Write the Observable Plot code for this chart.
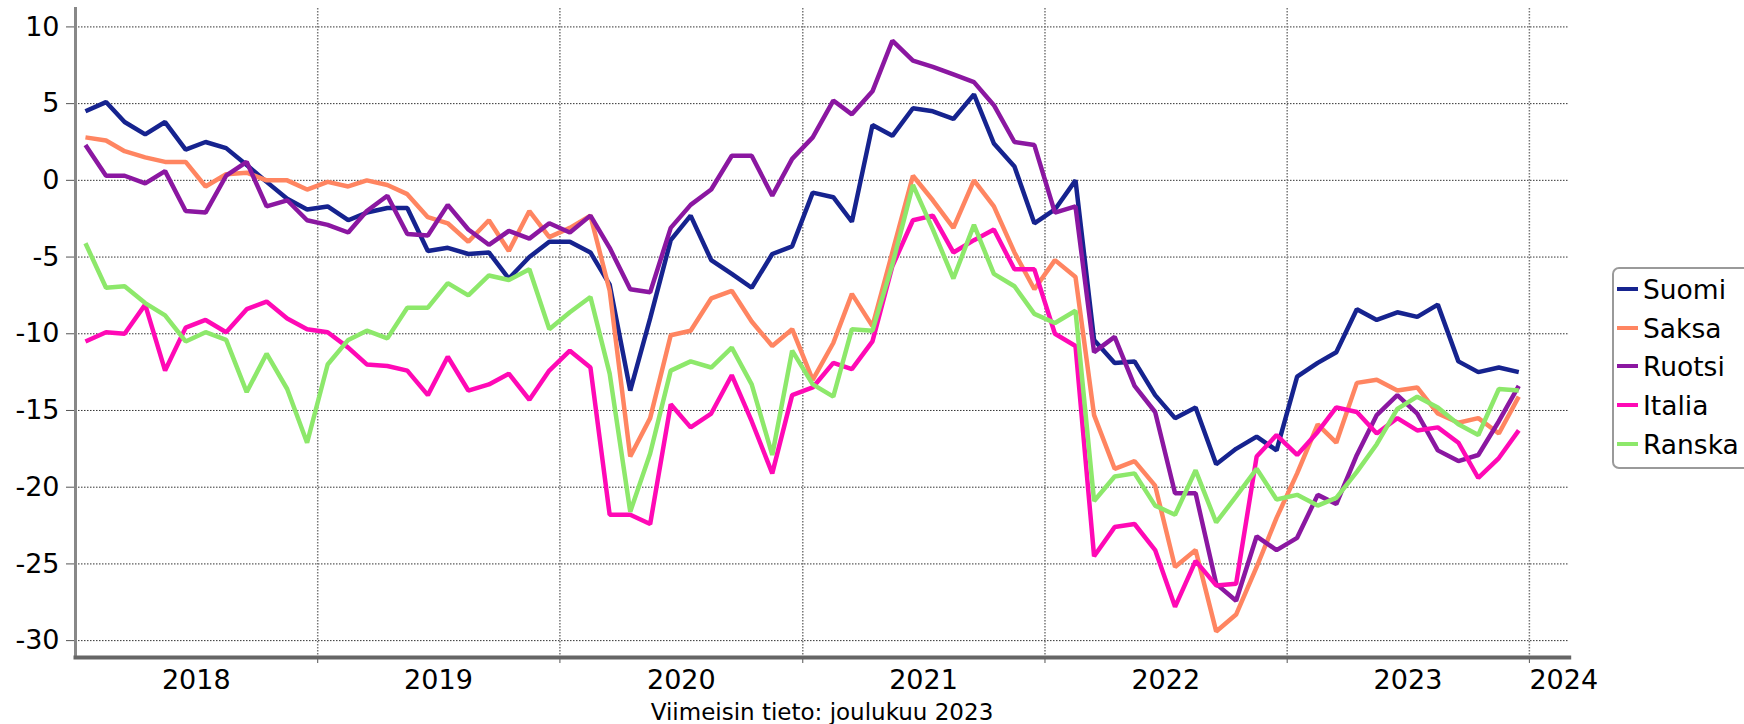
<!DOCTYPE html>
<html>
<head>
<meta charset="utf-8">
<script src="https://cdn.jsdelivr.net/npm/d3@7"></script>
<script src="https://cdn.jsdelivr.net/npm/@observablehq/plot@0.6"></script>
<style>
html,body{margin:0;padding:0;background:#fff;}
body{width:1744px;height:724px;position:relative;overflow:hidden;font-family:"DejaVu Sans",Verdana,sans-serif;color:#000;}
#chart{position:absolute;left:0;top:0;}
#caption{position:absolute;left:75px;width:1494px;top:699px;text-align:center;font-size:23px;line-height:normal;white-space:nowrap;}
#legend{position:absolute;left:1612px;top:267px;width:150px;height:196px;border:2px solid #9a9a9a;border-radius:7px;padding-top:2px;box-sizing:content-box;background:#fff;}
.row{position:relative;height:38.7px;}
.sw{position:absolute;left:3px;top:16px;width:21px;height:4px;}
.lb{position:absolute;left:29px;top:0;line-height:38.7px;font-size:26.5px;white-space:nowrap;}
</style>
</head>
<body>
<div id="chart"></div>
<div id="legend"></div>
<div id="caption"></div>
<script>
// ---- data ----
const startYear = 2018;
const seriesNames = ["Suomi", "Saksa", "Ruotsi", "Italia", "Ranska"];
const seriesColors = ["#16238f", "#ff8561", "#8b17a1", "#ff09b5", "#8de86b"];

const suomi = [
  4.5, 5.1, 3.8, 3.0, 3.8, 2.0, 2.5, 2.1, 1.0, -0.1, -1.2, -1.9,
  -1.7, -2.6, -2.1, -1.8, -1.8, -4.6, -4.4, -4.8, -4.7, -6.4, -5.0, -4.0,
  -4.0, -4.7, -6.8, -13.7, -9.0, -3.9, -2.3, -5.2, -6.1, -7.0, -4.8, -4.3,
  -0.8, -1.1, -2.7, 3.6, 2.9, 4.7, 4.5, 4.0, 5.6, 2.4, 0.9, -2.8,
  -1.9, 0.0, -10.4, -11.9, -11.8, -14.0, -15.5, -14.8, -18.5, -17.5, -16.7, -17.6,
  -12.8, -11.9, -11.2, -8.4, -9.1, -8.6, -8.9, -8.1, -11.8, -12.5, -12.2, -12.5
];
const saksa = [
  2.8, 2.6, 1.9, 1.5, 1.2, 1.2, -0.4, 0.4, 0.5, 0.0, 0.0, -0.6,
  -0.1, -0.4, 0.0, -0.3, -0.9, -2.4, -2.8, -4.0, -2.6, -4.6, -2.0, -3.7,
  -3.1, -2.3, -7.2, -18.0, -15.5, -10.1, -9.8, -7.7, -7.2, -9.2, -10.8, -9.7,
  -13.0, -10.6, -7.4, -9.5, -4.7, 0.3, -1.3, -3.1, 0.0, -1.7, -4.7, -7.1,
  -5.2, -6.3, -15.3, -18.8, -18.3, -19.9, -25.2, -24.1, -29.4, -28.3, -25.2, -22.0,
  -19.1, -15.9, -17.1, -13.2, -13.0, -13.7, -13.5, -15.2, -15.8, -15.5, -16.5, -14.1
];
const ruotsi = [
  2.3, 0.3, 0.3, -0.2, 0.6, -2.0, -2.1, 0.3, 1.2, -1.7, -1.3, -2.6,
  -2.9, -3.4, -2.0, -1.0, -3.5, -3.6, -1.6, -3.2, -4.2, -3.3, -3.8, -2.8,
  -3.4, -2.3, -4.4, -7.1, -7.3, -3.1, -1.6, -0.6, 1.6, 1.6, -1.0, 1.4,
  2.8, 5.2, 4.3, 5.8, 9.1, 7.8, 7.4, 6.9, 6.4, 4.9, 2.5, 2.3,
  -2.1, -1.7, -11.2, -10.2, -13.4, -15.1, -20.4, -20.4, -26.3, -27.4, -23.2, -24.1,
  -23.3, -20.5, -21.1, -17.9, -15.3, -14.0, -15.2, -17.6, -18.3, -17.9, -15.7, -13.4
];
const italia = [
  -10.5, -9.9, -10.0, -8.1, -12.4, -9.6, -9.1, -9.9, -8.4, -7.9, -9.0, -9.7,
  -9.9, -10.9, -12.0, -12.1, -12.4, -14.0, -11.5, -13.7, -13.3, -12.6, -14.3, -12.4,
  -11.1, -12.2, -21.8, -21.8, -22.4, -14.6, -16.1, -15.2, -12.7, -15.7, -19.1, -14.0,
  -13.5, -11.9, -12.3, -10.5, -5.6, -2.6, -2.3, -4.7, -3.9, -3.2, -5.8, -5.8,
  -10.0, -10.8, -24.5, -22.6, -22.4, -24.1, -27.8, -24.8, -26.4, -26.3, -18.0, -16.6,
  -17.9, -16.4, -14.8, -15.1, -16.5, -15.5, -16.3, -16.1, -17.1, -19.4, -18.1, -16.3
];
const ranska = [
  -4.1, -7.0, -6.9, -8.0, -8.8, -10.5, -9.9, -10.4, -13.8, -11.3, -13.6, -17.1,
  -12.0, -10.4, -9.8, -10.3, -8.3, -8.3, -6.7, -7.5, -6.2, -6.5, -5.8, -9.7,
  -8.6, -7.6, -12.6, -21.6, -17.8, -12.4, -11.8, -12.2, -10.9, -13.3, -17.9, -11.1,
  -13.3, -14.1, -9.7, -9.8, -5.5, -0.3, -3.2, -6.4, -2.9, -6.1, -6.9, -8.7,
  -9.3, -8.5, -20.9, -19.3, -19.1, -21.2, -21.8, -18.9, -22.3, -20.6, -18.8, -20.8,
  -20.5, -21.2, -20.7, -19.0, -17.2, -14.9, -14.1, -14.8, -15.9, -16.6, -13.6, -13.7
];
const seriesValues = [suomi, saksa, ruotsi, italia, ranska];

const yTicks = [10, 5, 0, -5, -10, -15, -20, -25, -30];
const yearLabels = ["2018", "2019", "2020", "2021", "2022", "2023", "2024"];
const captionText = "Viimeisin tieto: joulukuu 2023";

// ---- build ----
const months = d3.range(suomi.length).map(i => new Date(Date.UTC(startYear, i, 16)));
const rows = seriesNames.flatMap((name, k) =>
  seriesValues[k].map((v, i) => ({date: months[i], value: v, series: name})));
const yearBoundaries = yearLabels.slice(1).map(y => new Date(Date.UTC(+y, 0, 1)));
const midLabels = yearLabels.slice(0, -1);
const lastLabel = yearLabels.slice(-1);

const chart = Plot.plot({
  width: 1744,
  height: 695,
  marginLeft: 75,
  marginRight: 175.3,
  marginTop: 8,
  marginBottom: 38,
  style: {fontFamily: '"DejaVu Sans", Verdana, sans-serif', fontSize: "27px", color: "#000", background: "#fff", overflow: "visible"},
  x: {type: "utc", domain: [new Date(Date.UTC(2018, 0, 1)), new Date(Date.UTC(2024, 2, 1))]},
  y: {domain: [-31.1, 11.2]},
  color: {domain: seriesNames, range: seriesColors},
  marks: [
    Plot.ruleY(yTicks, {stroke: "#333", strokeWidth: 1, strokeDasharray: "1.5,1.5"}),
    Plot.ruleX(yearBoundaries, {stroke: "#777", strokeWidth: 1.5, strokeDasharray: "1.5,1.5"}),
    Plot.axisY(yTicks, {tickSize: 9, tickPadding: 7, fontSize: 27, stroke: "#555", label: null, tickFormat: d => String(d)}),
    Plot.axisX(yearBoundaries, {tickSize: 6, tickPadding: 0, stroke: "#555", label: null, tickFormat: () => ""}),
    Plot.text(midLabels, {x: d => new Date(Date.UTC(+d, 6, 2)), text: d => d, frameAnchor: "bottom", dy: 31, lineAnchor: "bottom", fontSize: 27}),
    Plot.text(lastLabel, {x: d => new Date(Date.UTC(+d, 0, 1)), text: d => d, frameAnchor: "bottom", dy: 31, lineAnchor: "bottom", textAnchor: "start", fontSize: 27}),
    Plot.line(rows, {x: "date", y: "value", z: "series", stroke: "series", strokeWidth: 4.5, strokeLinejoin: "miter", strokeLinecap: "butt"}),
    Plot.frame({anchor: "left", stroke: "#888", strokeWidth: 3}),
    Plot.frame({anchor: "bottom", stroke: "#666", strokeWidth: 4})
  ]
});
document.getElementById("chart").appendChild(chart);

// legend
const legend = document.getElementById("legend");
seriesNames.forEach((name, i) => {
  const row = document.createElement("div");
  row.className = "row";
  const sw = document.createElement("div");
  sw.className = "sw";
  sw.style.background = seriesColors[i];
  const lb = document.createElement("div");
  lb.className = "lb";
  lb.textContent = name;
  row.appendChild(sw);
  row.appendChild(lb);
  legend.appendChild(row);
});
document.getElementById("caption").textContent = captionText;
</script>
</body>
</html>
